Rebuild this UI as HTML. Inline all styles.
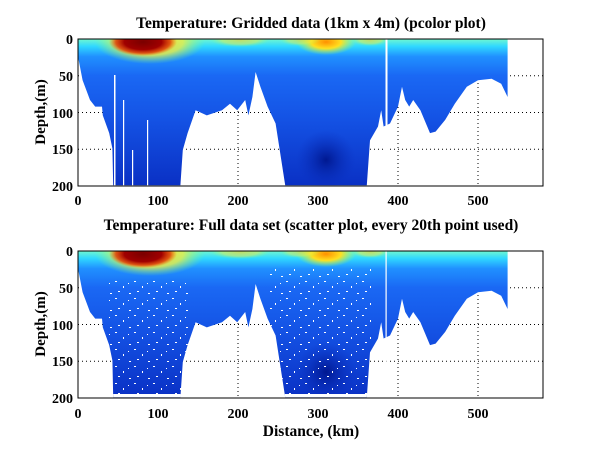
<!DOCTYPE html>
<html><head><meta charset="utf-8"><style>
html,body{margin:0;padding:0;background:#fff;}
svg{display:block;font-family:"Liberation Serif",serif;font-weight:bold;}
</style></head><body>
<svg width="600" height="451" viewBox="0 0 600 451" xmlns="http://www.w3.org/2000/svg">
<defs>
<clipPath id="dc"><polygon points="78,50 78,56.6 82.6,80.2 90,100 95.2,106.6 102,106.6 102.8,115.4 109.2,133.1 112.4,148.5 113.2,185.3 180.4,185.3 182.8,150 187.6,133.1 195.6,110.3 206.8,115.4 222,110.3 230,103.7 237.2,110.3 245.2,100 248.4,115.4 252.4,97 255.6,72 260.4,86.8 267.6,106.6 275.6,123.5 285.2,185.3 366.8,185.3 370,140.4 378,126.5 381.2,110.3 383.6,126.5 390,123.5 398,106.6 402,86.8 405.2,100 409.2,106.6 413.2,100 420.4,110.3 430,133.1 435.6,131.6 445.2,119.9 454.8,103.7 466.8,86.8 478,80.2 491.6,78.7 501.2,83.8 507.6,97 507.6,39 78,39"/></clipPath>
<linearGradient id="vg" x1="0" y1="39" x2="0" y2="186" gradientUnits="userSpaceOnUse">
<stop offset="0" stop-color="#70f8d0"/><stop offset="0.05" stop-color="#30d8ff"/><stop offset="0.12" stop-color="#2090ff"/><stop offset="0.25" stop-color="#1a68f4"/><stop offset="0.55" stop-color="#1452e4"/><stop offset="1" stop-color="#0a30c4"/>
</linearGradient>
<radialGradient id="yel"><stop offset="0" stop-color="#ffd020"/><stop offset="0.6" stop-color="#f0f040" stop-opacity="0.8"/><stop offset="1" stop-color="#80ff80" stop-opacity="0"/></radialGradient>
<radialGradient id="red"><stop offset="0" stop-color="#7a0000"/><stop offset="0.55" stop-color="#a00000"/><stop offset="0.8" stop-color="#e03000" stop-opacity="0.8"/><stop offset="1" stop-color="#ff6000" stop-opacity="0"/></radialGradient>
<radialGradient id="org"><stop offset="0" stop-color="#ff9000"/><stop offset="0.5" stop-color="#ffe020"/><stop offset="1" stop-color="#a0ff60" stop-opacity="0"/></radialGradient>
<radialGradient id="dk"><stop offset="0" stop-color="#001890"/><stop offset="1" stop-color="#0a30c0" stop-opacity="0"/></radialGradient>
<pattern id="dots" width="19" height="17" patternUnits="userSpaceOnUse">
<rect x="1" y="1" width="2" height="1" fill="#fff"/><rect x="9" y="6" width="1" height="2" fill="#fff"/><rect x="4" y="11" width="2" height="1" fill="#fff"/><rect x="15" y="13" width="2" height="1" fill="#fff"/><rect x="14" y="3" width="1" height="1" fill="#fff"/>
</pattern>
<g id="data">
<g clip-path="url(#dc)">
<rect x="78" y="39" width="430" height="147" fill="url(#vg)"/>
<ellipse cx="326" cy="160" rx="30" ry="30" fill="url(#dk)"/>
<ellipse cx="150" cy="42" rx="55" ry="22" fill="url(#yel)"/>
<ellipse cx="143" cy="42" rx="34" ry="14" fill="url(#red)"/>
<ellipse cx="326" cy="42" rx="30" ry="13" fill="url(#org)"/>
<ellipse cx="240" cy="40" rx="30" ry="7" fill="url(#yel)" opacity="0.6"/>
<ellipse cx="370" cy="40" rx="18" ry="6" fill="url(#yel)" opacity="0.6"/>
<ellipse cx="300" cy="40" rx="20" ry="6" fill="url(#yel)" opacity="0.5"/>
</g>
</g>
</defs>

<g>
<g stroke="#000" stroke-width="1" stroke-dasharray="1,3">
<line x1="158" y1="39" x2="158" y2="186"/><line x1="238" y1="39" x2="238" y2="186"/><line x1="318" y1="39" x2="318" y2="186"/><line x1="398" y1="39" x2="398" y2="186"/><line x1="478" y1="39" x2="478" y2="186"/>
<line x1="78" y1="75.7" x2="543" y2="75.7"/><line x1="78" y1="112.5" x2="543" y2="112.5"/><line x1="78" y1="149.2" x2="543" y2="149.2"/>
</g>
<use href="#data"/>
<g fill="#fff">
<rect x="385.5" y="39" width="2" height="147"/>
<rect x="114" y="75" width="1.5" height="111"/><rect x="123" y="100" width="1.2" height="86"/><rect x="132" y="150" width="1.2" height="36"/><rect x="147" y="120" width="1.2" height="66"/>
</g>
<rect x="78" y="39" width="465" height="147" fill="none" stroke="#000"/>
<text x="311" y="28" font-size="15.5" text-anchor="middle">Temperature: Gridded data (1km x 4m) (pcolor plot)</text>
</g>

<g transform="translate(0,212)">
<g stroke="#000" stroke-width="1" stroke-dasharray="1,3">
<line x1="158" y1="39" x2="158" y2="186"/><line x1="238" y1="39" x2="238" y2="186"/><line x1="318" y1="39" x2="318" y2="186"/><line x1="398" y1="39" x2="398" y2="186"/><line x1="478" y1="39" x2="478" y2="186"/>
<line x1="78" y1="75.7" x2="543" y2="75.7"/><line x1="78" y1="112.5" x2="543" y2="112.5"/><line x1="78" y1="149.2" x2="543" y2="149.2"/>
</g>
<use href="#data"/>
<g clip-path="url(#dc)">
<rect x="105" y="65" width="85" height="121" fill="url(#dots)"/>
<rect x="270" y="55" width="105" height="131" fill="url(#dots)"/>
<rect x="78" y="182" width="430" height="5" fill="#fff"/>
</g>
<rect x="385.5" y="39" width="1.2" height="147" fill="#fff"/>
<rect x="78" y="39" width="465" height="147" fill="none" stroke="#000"/>
<text x="311" y="18" font-size="15.5" text-anchor="middle">Temperature: Full data set (scatter plot, every 20th point used)</text>
</g>

<g font-size="14" text-anchor="middle">
<text x="78" y="205">0</text><text x="158" y="205">100</text><text x="238" y="205">200</text><text x="318" y="205">300</text><text x="398" y="205">400</text><text x="478" y="205">500</text>
<text x="78" y="418">0</text><text x="158" y="418">100</text><text x="238" y="418">200</text><text x="318" y="418">300</text><text x="398" y="418">400</text><text x="478" y="418">500</text>
</g>
<g font-size="14" text-anchor="end">
<text x="73" y="44">0</text><text x="73" y="81">50</text><text x="73" y="118">100</text><text x="73" y="154">150</text><text x="73" y="191">200</text>
<text x="73" y="256">0</text><text x="73" y="293">50</text><text x="73" y="330">100</text><text x="73" y="366">150</text><text x="73" y="403">200</text>
</g>
<text x="311" y="436" font-size="15.5" text-anchor="middle">Distance, (km)</text>
<text transform="translate(45,112) rotate(-90)" font-size="15" text-anchor="middle">Depth,(m)</text>
<text transform="translate(45,324) rotate(-90)" font-size="15" text-anchor="middle">Depth,(m)</text>
</svg>
</body></html>
